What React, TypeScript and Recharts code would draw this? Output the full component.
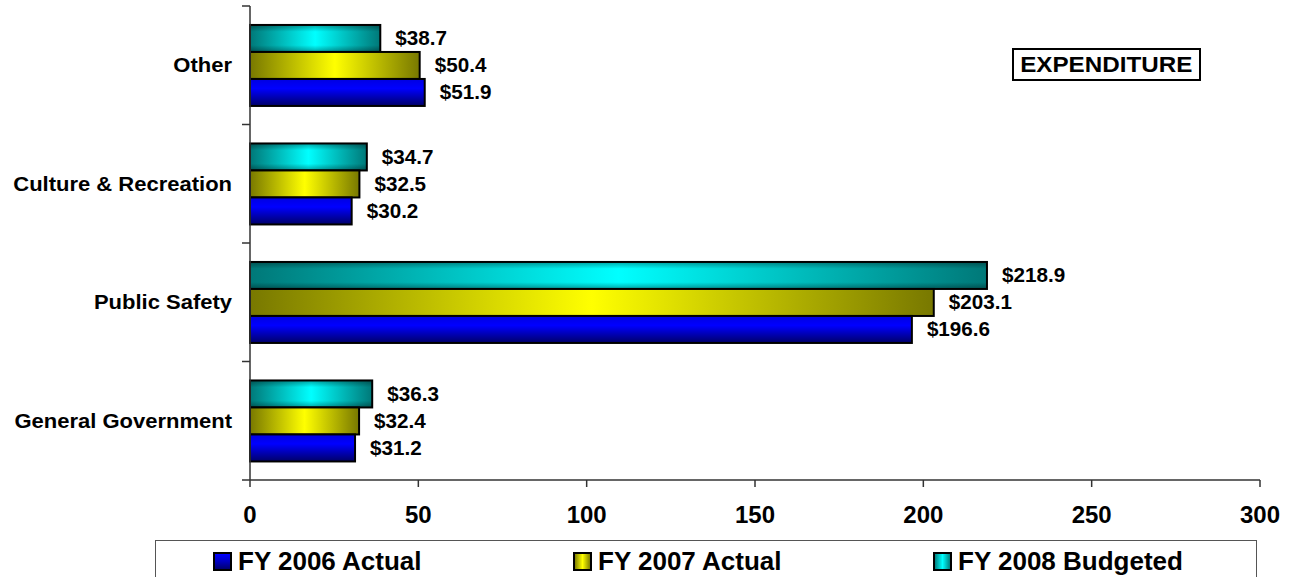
import React from 'react';
import { BarChart, Bar, XAxis, YAxis, LabelList } from 'recharts';

// Expenditure by function, $ millions
const categories = ['Other', 'Culture & Recreation', 'Public Safety', 'General Government'];
const fy2006Actual = [51.9, 30.2, 196.6, 31.2];
const fy2007Actual = [50.4, 32.5, 203.1, 32.4];
const fy2008Budgeted = [38.7, 34.7, 218.9, 36.3];
const xTicks = [0, 50, 100, 150, 200, 250, 300];

const data = categories.map((name, i) => ({
    name,
    fy2006: fy2006Actual[i],
    fy2007: fy2007Actual[i],
    fy2008: fy2008Budgeted[i],
}));

const W = 1290;
const H = 577;
const MARGIN = { top: 6, right: 30, bottom: 37, left: 0 };
const Y_AXIS_W = 250;
const X_AXIS_H = 60;
const PLOT_H = H - MARGIN.top - MARGIN.bottom - X_AXIS_H;
const BAND = PLOT_H / categories.length;
const FONT = '"Liberation Sans", Arial, Helvetica, sans-serif';

const money = (v: number) => `$${Number(v).toFixed(1)}`;

// text drawn slightly wider than normal, like the original export
const WideText = ({ x, y, anchor, size, stretch, children }: any) => (
    <text
        transform={`translate(${x},${y}) scale(${stretch},1)`}
        textAnchor={anchor}
        dominantBaseline="central"
        fontFamily={FONT}
        fontWeight="bold"
        fontSize={size}
        fill="#000"
    >
        {children}
    </text>
);

// bar with black outline, optional vertical edge shading on top of the fill
const makeShape = (shade: boolean) => (props: any) => {
    const { x, y, width, height, fill } = props;
    if (!width || width <= 0) return <g />;
    return (
        <g>
            <rect x={x} y={y} width={width} height={height} fill={fill} />
            {shade && <rect x={x} y={y} width={width} height={height} fill="url(#vShade)" />}
            <rect x={x} y={y} width={width} height={height} fill="none" stroke="#000" strokeWidth={2} />
        </g>
    );
};

const ValueLabel = (props: any) => {
    const { x, y, width, height, value } = props;
    return (
        <WideText x={x + width + 15} y={y + height / 2} anchor="start" size={19.5} stretch={1.06}>
            {money(value)}
        </WideText>
    );
};

const CategoryTick = (props: any) => {
    const { y, payload, index } = props;
    const axisX = Y_AXIS_W;
    const last = index === categories.length - 1;
    return (
        <g>
            <line x1={axisX - 8} x2={axisX} y1={y - BAND / 2} y2={y - BAND / 2} stroke="#333" strokeWidth={1.5} />
            {last && (
                <line x1={axisX - 8} x2={axisX} y1={y + BAND / 2} y2={y + BAND / 2} stroke="#333" strokeWidth={1.5} />
            )}
            <WideText x={axisX - 18} y={y} anchor="end" size={20} stretch={1.1}>
                {payload.value}
            </WideText>
        </g>
    );
};

const legendItems = [
    { label: 'FY 2006 Actual', bg: 'linear-gradient(180deg, #0000ff 0%, #0000c0 50%, #000070 100%)' },
    { label: 'FY 2007 Actual', bg: 'linear-gradient(90deg, #808000 0%, #ffff00 50%, #808000 100%)' },
    { label: 'FY 2008 Budgeted', bg: 'linear-gradient(90deg, #008080 0%, #00ffff 50%, #008080 100%)' },
];

export default function App() {
    return (
        <div style={{ position: 'relative', width: W, height: H, background: '#fff', overflow: 'hidden' }}>
            <style>{`body{margin:0;}`}</style>
            <BarChart
                width={W}
                height={H}
                data={data}
                layout="vertical"
                margin={MARGIN}
                barCategoryGap="16%"
                barGap={0}
            >
                <defs>
                    <linearGradient id="gCyan" x1="0" y1="0" x2="1" y2="0">
                        <stop offset="0%" stopColor="#007878" />
                        <stop offset="50%" stopColor="#00ffff" />
                        <stop offset="100%" stopColor="#007878" />
                    </linearGradient>
                    <linearGradient id="gYellow" x1="0" y1="0" x2="1" y2="0">
                        <stop offset="0%" stopColor="#787800" />
                        <stop offset="50%" stopColor="#ffff00" />
                        <stop offset="100%" stopColor="#787800" />
                    </linearGradient>
                    <linearGradient id="gBlue" x1="0" y1="0" x2="0" y2="1">
                        <stop offset="0%" stopColor="#0000e0" />
                        <stop offset="35%" stopColor="#0000ff" />
                        <stop offset="100%" stopColor="#000068" />
                    </linearGradient>
                    <linearGradient id="vShade" x1="0" y1="0" x2="0" y2="1">
                        <stop offset="0%" stopColor="#000" stopOpacity={0.35} />
                        <stop offset="25%" stopColor="#000" stopOpacity={0} />
                        <stop offset="75%" stopColor="#000" stopOpacity={0} />
                        <stop offset="100%" stopColor="#000" stopOpacity={0.35} />
                    </linearGradient>
                </defs>
                <XAxis
                    type="number"
                    domain={[0, 300]}
                    ticks={xTicks}
                    interval={0}
                    height={X_AXIS_H}
                    axisLine={{ stroke: '#333', strokeWidth: 1.5 }}
                    tickLine={{ stroke: '#333', strokeWidth: 1.5 }}
                    tickSize={7}
                    tickMargin={19}
                    tick={{ fontFamily: FONT, fontWeight: 'bold', fontSize: 24, fill: '#000' }}
                />
                <XAxis
                    xAxisId="top"
                    orientation="top"
                    type="number"
                    domain={[0, 300]}
                    height={0}
                    tick={false}
                    tickLine={false}
                    axisLine={{ stroke: '#808080', strokeWidth: 2 }}
                />
                <YAxis
                    type="category"
                    dataKey="name"
                    width={Y_AXIS_W}
                    axisLine={{ stroke: '#333', strokeWidth: 1.5 }}
                    tickLine={false}
                    tick={<CategoryTick />}
                    interval={0}
                />
                <YAxis
                    yAxisId="right"
                    orientation="right"
                    type="category"
                    dataKey="name"
                    width={0}
                    tick={false}
                    tickLine={false}
                    axisLine={{ stroke: '#808080', strokeWidth: 2 }}
                />
                <Bar dataKey="fy2008" fill="url(#gCyan)" shape={makeShape(true)} isAnimationActive={false}>
                    <LabelList dataKey="fy2008" content={<ValueLabel />} />
                </Bar>
                <Bar dataKey="fy2007" fill="url(#gYellow)" shape={makeShape(false)} isAnimationActive={false}>
                    <LabelList dataKey="fy2007" content={<ValueLabel />} />
                </Bar>
                <Bar dataKey="fy2006" fill="url(#gBlue)" shape={makeShape(false)} isAnimationActive={false}>
                    <LabelList dataKey="fy2006" content={<ValueLabel />} />
                </Bar>
            </BarChart>

            <div
                style={{
                    position: 'absolute',
                    left: 1012,
                    top: 48,
                    width: 189,
                    height: 33,
                    boxSizing: 'border-box',
                    border: '2px solid #000',
                    background: '#fff',
                    fontFamily: FONT,
                    fontWeight: 'bold',
                    fontSize: 22,
                    lineHeight: '29px',
                    textAlign: 'center',
                }}
            >
                <span style={{ display: 'inline-block', transform: 'scaleX(1.1)' }}>EXPENDITURE</span>
            </div>

            <div
                style={{
                    position: 'absolute',
                    left: 155,
                    top: 540,
                    width: 1102,
                    height: 60,
                    boxSizing: 'border-box',
                    border: '1.5px solid #555',
                    display: 'flex',
                    paddingLeft: 57,
                    paddingTop: 10,
                    fontFamily: FONT,
                    fontWeight: 'bold',
                    fontSize: 26,
                }}
            >
                {legendItems.map((it) => (
                    <div
                        key={it.label}
                        style={{ width: 360, flexShrink: 0, display: 'flex', alignItems: 'center', height: 20 }}
                    >
                        <span
                            style={{
                                display: 'inline-block',
                                width: 15,
                                height: 15,
                                border: '2px solid #000',
                                background: it.bg,
                                marginRight: 6,
                                flexShrink: 0,
                            }}
                        />
                        <span>{it.label}</span>
                    </div>
                ))}
            </div>
        </div>
    );
}
